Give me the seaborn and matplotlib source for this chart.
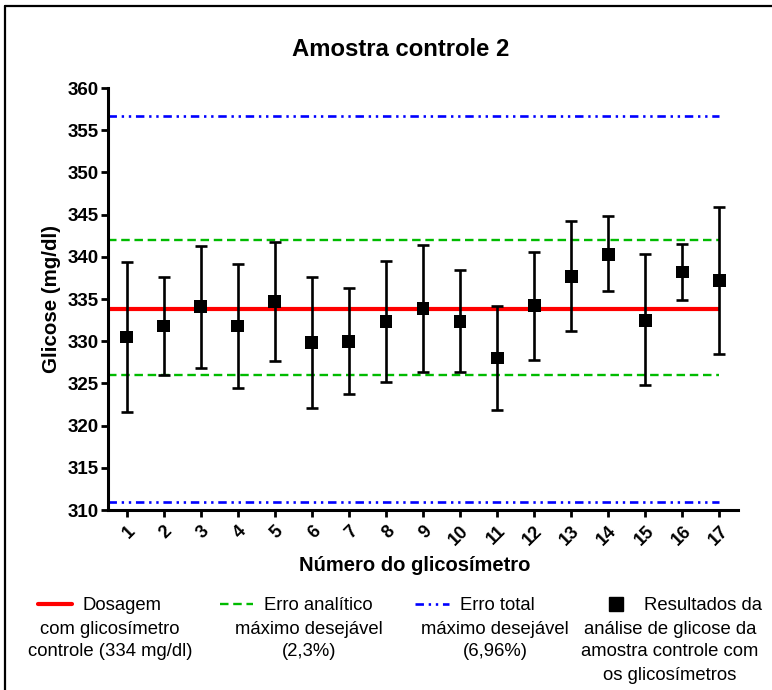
import matplotlib
matplotlib.use("Agg")
import matplotlib.pyplot as plt
import seaborn as sns
import pandas as pd
from matplotlib import font_manager
from matplotlib.lines import Line2D

# dados
glicosimetros = list(range(1, 18))
media = [330.5, 331.8, 334.1, 331.8, 334.7, 329.8, 330.0, 332.3, 333.9,
         332.3, 328.0, 334.2, 337.7, 340.3, 332.5, 338.2, 337.2]
limite_sup = [339.4, 337.6, 341.3, 339.2, 341.8, 337.6, 336.3, 339.5, 341.4,
              338.4, 334.2, 340.6, 344.2, 344.8, 340.3, 341.5, 345.9]
limite_inf = [321.6, 326.0, 326.8, 324.5, 327.6, 322.1, 323.7, 325.2, 326.3,
              326.3, 321.8, 327.8, 331.2, 336.0, 324.8, 334.9, 328.5]
dosagem_controle = 333.8
erro_analitico = [326.0, 342.0]
erro_total = [311.0, 356.7]
y_ticks = list(range(310, 361, 5))

legend_labels = [
    ["Dosagem", "com glicosímetro", "controle (334 mg/dl)"],
    ["Erro analítico", "máximo desejável", "(2,3%)"],
    ["Erro total", "máximo desejável", "(6,96%)"],
    ["Resultados da", "análise de glicose da", "amostra controle com", "os glicosímetros"],
]

df = pd.DataFrame({"glicosimetro": glicosimetros, "media": media,
                   "sup": limite_sup, "inf": limite_inf})

sns.set_style("ticks")
plt.rcParams["font.family"] = ["Liberation Sans", "DejaVu Sans"]
for key in ["text.color", "axes.labelcolor", "xtick.color", "ytick.color", "axes.edgecolor"]:
    plt.rcParams[key] = "black"

available = {f.name for f in font_manager.fontManager.ttflist}
leg_family = "Liberation Sans Narrow" if "Liberation Sans Narrow" in available else "Liberation Sans"
leg_size = 15.5 if leg_family == "Liberation Sans Narrow" else 13.3

W, H = 772, 690
fig = plt.figure(figsize=(W / 100, H / 100), dpi=100)
ax = fig.add_axes([108 / W, 1 - 510 / H, 630 / W, 422 / H])

# limites
x0, x1 = 0.5, 17
blue_ls = (0, (3.2, 1.8, 0.9, 1.8, 0.9, 1.8))
green_ls = (0, (3.6, 2.0))
ax.hlines(erro_total, x0, x1, colors="#0000ff", linewidth=1.9, linestyles=[blue_ls])
ax.hlines(erro_analitico, x0, x1, colors="#00bb00", linewidth=1.7, linestyles=[green_ls])
ax.hlines(dosagem_controle, x0, x1, colors="#ff0000", linewidth=3)

yerr = [df["media"] - df["inf"], df["sup"] - df["media"]]
ax.errorbar(df["glicosimetro"], df["media"], yerr=yerr, fmt="none",
            ecolor="black", elinewidth=1.9, capsize=4.5, capthick=1.9, zorder=3)
sns.scatterplot(data=df, x="glicosimetro", y="media", marker="s", s=85,
                color="black", edgecolor="none", ax=ax, zorder=4, legend=False)

ax.set_xlim(0.5, 17.5)
ax.set_ylim(310, 360)
ax.set_yticks(y_ticks)
ax.set_xticks(glicosimetros)
ax.set_xticklabels([str(g) for g in glicosimetros], rotation=45, ha="right",
                   rotation_mode="anchor", fontweight="bold", fontsize=13)
ax.set_yticklabels([str(t) for t in y_ticks], fontweight="bold", fontsize=13.5)
ax.tick_params(axis="both", direction="out", length=5, width=2, color="black", pad=2)
ax.tick_params(axis="x", pad=4)
sns.despine(ax=ax)
for s in ["left", "bottom"]:
    ax.spines[s].set_linewidth(2.2)
    ax.spines[s].set_color("black")

ax.set_xlabel("Número do glicosímetro", fontweight="bold", fontsize=14.5)
ax.xaxis.set_label_coords(0.487, -0.108)
ax.set_ylabel("Glicose (mg/dl)", fontweight="bold", fontsize=14.8)
ax.yaxis.set_label_coords(-0.074, 0.5)

fig.text(401 / W, 1 - 50 / H, "Amostra controle 2", ha="center", va="center",
         fontweight="bold", fontsize=17.2)

# legenda
handles = [
    Line2D([], [], color="#ff0000", linewidth=3),
    Line2D([], [], color="#00bb00", linewidth=1.7, linestyle=green_ls),
    Line2D([], [], color="#0000ff", linewidth=1.9, linestyle=blue_ls),
    Line2D([], [], color="black", marker="s", markersize=10, linestyle="none"),
]
first_x = [100, 296, 475, 681]
block_x = [110, 309, 495, 670]
line_y0 = 606
pitch = 23
for h, labels, fx, bx in zip(handles, legend_labels, first_x, block_x):
    fig.legend(handles=[h], labels=[labels[0]], loc="center",
               bbox_to_anchor=(fx / W, 1 - line_y0 / H), frameon=False,
               prop={"family": leg_family, "size": leg_size},
               handlelength=1.8, handletextpad=0.6, borderpad=0, borderaxespad=0)
    for k, txt in enumerate(labels[1:], start=1):
        fig.text(bx / W, 1 - (line_y0 + pitch * k) / H, txt, ha="center", va="center",
                 family=leg_family, fontsize=leg_size)

# moldura
fig.add_artist(Line2D([5 / W, 5 / W], [0, 1 - 6 / H], transform=fig.transFigure,
                      color="black", linewidth=1.6))
fig.add_artist(Line2D([5 / W, 1], [1 - 6 / H, 1 - 6 / H], transform=fig.transFigure,
                      color="black", linewidth=1.6))

fig.savefig("out.png", dpi=100)
plt.close(fig)
